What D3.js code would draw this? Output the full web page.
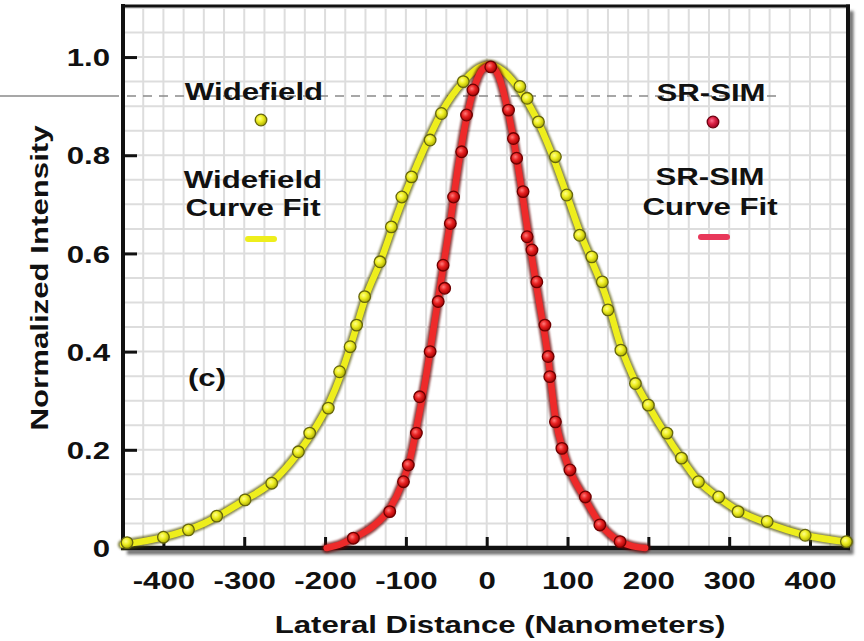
<!DOCTYPE html>
<html>
<head>
<meta charset="utf-8">
<script src="https://cdn.jsdelivr.net/npm/d3@7"></script>
<style>
  body { margin: 0; background: #fff; }
  svg { display: block; }
  text { font-family: "Liberation Sans", Arial, Helvetica, sans-serif; font-weight: bold; fill: #111; }
</style>
</head>
<body>
<svg id="chart" width="864" height="641"></svg>
<script>
// Measured intensity profiles (lateral position in nm, normalized intensity)
const widefieldX = [-445, -400, -369, -334, -299, -266, -233, -219, -196, -182, -169, -161, -151, -132, -118, -105, -93, -70, -56, -29,
                    41, 50, 64, 85, 99, 115, 130, 143, 150, 166, 184, 200, 223, 241, 262, 287, 311, 347, 394, 445];
const widefieldY = [0.011, 0.022, 0.037, 0.065, 0.098, 0.132, 0.196, 0.234, 0.285, 0.359, 0.410, 0.454, 0.512, 0.583, 0.654, 0.715, 0.756, 0.831, 0.885, 0.950,
                    0.940, 0.916, 0.868, 0.797, 0.719, 0.637, 0.593, 0.542, 0.485, 0.403, 0.335, 0.291, 0.234, 0.183, 0.135, 0.104, 0.074, 0.054, 0.026, 0.013];

const srsimX = [-165, -120, -103, -97, -87, -83, -70, -60, -52, -54, -45, -41, -31, -25, -17, 5,
                27, 33, 37, 45, 50, 56, 62, 72, 76, 78, 85, 93, 103, 122, 140, 165];
const srsimY = [0.020, 0.074, 0.135, 0.169, 0.234, 0.308, 0.400, 0.502, 0.529, 0.576, 0.661, 0.715, 0.807, 0.882, 0.933, 0.980,
                0.892, 0.834, 0.794, 0.726, 0.634, 0.607, 0.542, 0.454, 0.390, 0.349, 0.257, 0.203, 0.159, 0.104, 0.047, 0.013];

// Fitted curves
const widefieldFitX = [-450, -400, -350, -300, -265, -235, -210, -195, -180, -165, -150, -130, -115, -100, -85, -70, -55, -30, -10, 2,
                       20, 40, 60, 80, 100, 115, 130, 148, 165, 185, 200, 220, 240, 260, 285, 310, 345, 395, 447];
const widefieldFitY = [0.007, 0.022, 0.05, 0.097, 0.135, 0.19, 0.25, 0.295, 0.355, 0.43, 0.51, 0.59, 0.66, 0.725, 0.785, 0.84, 0.89, 0.948, 0.978, 0.985,
                       0.972, 0.935, 0.88, 0.805, 0.715, 0.645, 0.585, 0.51, 0.415, 0.335, 0.29, 0.235, 0.185, 0.14, 0.105, 0.077, 0.052, 0.026, 0.012];

const srsimFitX = [-198, -180, -165, -140, -120, -105, -95, -85, -75, -65, -55, -45, -35, -25, -15, -5, 4,
                   15, 25, 35, 45, 55, 65, 75, 85, 95, 105, 120, 140, 165, 180, 196];
const srsimFitY = [0.0, 0.008, 0.02, 0.045, 0.08, 0.13, 0.18, 0.26, 0.35, 0.455, 0.56, 0.665, 0.78, 0.875, 0.94, 0.975, 0.982,
                   0.96, 0.9, 0.815, 0.71, 0.6, 0.5, 0.4, 0.265, 0.195, 0.15, 0.105, 0.05, 0.013, 0.004, 0.0];

const xTicks = [-400, -300, -200, -100, 0, 100, 200, 300, 400];
const xTickLabels = ["-400", "-300", "-200", "-100", "0", "100", "200", "300", "400"];
const yTicks = [0, 0.2, 0.4, 0.6, 0.8, 1.0];
const yTickLabels = ["0", "0.2", "0.4", "0.6", "0.8", "1.0"];

const xTitle = "Lateral Distance (Nanometers)";
const yTitle = "Normalized Intensity";

const STRETCH = 1.3;   // wide lettering
const FONT = '"Liberation Sans", Arial, Helvetica, sans-serif';

const svg = d3.select("#chart");
const x = d3.scaleLinear().domain([-450, 447]).range([123, 848]);
const y = d3.scaleLinear().domain([0, 1.104]).range([548, 6]);

// ---- defs: dot gradients, blur ----
const defs = svg.append("defs");
function radial(id, stops) {
  const g = defs.append("radialGradient").attr("id", id)
    .attr("cx", "40%").attr("cy", "38%").attr("r", "65%");
  stops.forEach(([o, c]) => g.append("stop").attr("offset", o).attr("stop-color", c));
}
radial("gY", [["0%", "#ffff8a"], ["45%", "#eeee22"], ["100%", "#a8a800"]]);
radial("gR", [["0%", "#ff7a7a"], ["45%", "#e82222"], ["100%", "#a00000"]]);
radial("gRL", [["0%", "#ff7090"], ["45%", "#dc2346"], ["100%", "#9a0020"]]);
defs.append("filter").attr("id", "soft").attr("x", "-10%").attr("y", "-10%").attr("width", "120%").attr("height", "120%")
  .append("feGaussianBlur").attr("stdDeviation", 1.1);
defs.append("filter").attr("id", "shadow").attr("x", "-10%").attr("y", "-10%").attr("width", "120%").attr("height", "120%")
  .append("feGaussianBlur").attr("stdDeviation", 1.8);

// ---- grid ----
const grid = svg.append("g");
grid.selectAll("line.v").data(d3.range(-450, 448, 25)).join("line")
  .attr("x1", d => x(d)).attr("x2", d => x(d)).attr("y1", y(1.104)).attr("y2", y(0))
  .attr("stroke", "#dddddd").attr("stroke-width", 2);
grid.selectAll("line.h").data(d3.range(1, 23).map(i => i * 0.05)).join("line")
  .attr("x1", x(-450)).attr("x2", x(447)).attr("y1", d => y(d)).attr("y2", d => y(d))
  .attr("stroke", "#dddddd").attr("stroke-width", 2);

// ---- reference line across the upper part ----
svg.append("line").attr("x1", 0).attr("x2", 119).attr("y1", 96).attr("y2", 96)
  .attr("stroke", "#8a8a8a").attr("stroke-width", 1.5);
svg.append("line").attr("x1", 127).attr("x2", 776).attr("y1", 96).attr("y2", 96)
  .attr("stroke", "#8a8a8a").attr("stroke-width", 1.5).attr("stroke-dasharray", "9 7");

// ---- frame with shadow on right and bottom ----
const frame = svg.append("g");
frame.append("path")
  .attr("d", `M${x(447) + 3},${y(1.104) + 5} V${y(0) + 4} H${x(-450) + 4}`)
  .attr("fill", "none").attr("stroke", "#6f6f6f").attr("stroke-width", 5).attr("filter", "url(#shadow)");
frame.append("line").attr("x1", x(-450)).attr("x2", x(-450)).attr("y1", y(1.104) - 2).attr("y2", y(0) + 2)
  .attr("stroke", "#111").attr("stroke-width", 4);
frame.append("line").attr("x1", x(-450) - 2).attr("x2", x(447) + 2).attr("y1", y(1.104)).attr("y2", y(1.104))
  .attr("stroke", "#111").attr("stroke-width", 3);
frame.append("line").attr("x1", x(447)).attr("x2", x(447)).attr("y1", y(1.104) - 1.5).attr("y2", y(0) + 2)
  .attr("stroke", "#111").attr("stroke-width", 4);
frame.append("line").attr("x1", x(-450) - 2).attr("x2", x(447) + 2).attr("y1", y(0)).attr("y2", y(0))
  .attr("stroke", "#111").attr("stroke-width", 4.5);

// ---- axes ----
const yAxis = svg.append("g").attr("transform", `translate(${x(-450)},0)`)
  .call(d3.axisLeft(y).tickValues(yTicks).tickFormat((d, i) => yTickLabels[i]).tickSize(-14).tickPadding(13));
yAxis.select(".domain").remove();
yAxis.attr("font-family", FONT).attr("font-size", 24);
yAxis.selectAll(".tick line").attr("stroke", "#111").attr("stroke-width", 3);
yAxis.selectAll(".tick text")
  .attr("x", -13 / STRETCH).attr("dy", "0.36em")
  .attr("transform", `scale(${STRETCH},1)`)
  .attr("fill", "#111");

const xAxis = svg.append("g").attr("transform", `translate(0,${y(0)})`)
  .call(d3.axisBottom(x).tickValues(xTicks).tickFormat((d, i) => xTickLabels[i]).tickSize(-11).tickPadding(24));
xAxis.select(".domain").remove();
xAxis.attr("font-family", FONT).attr("font-size", 24);
xAxis.selectAll(".tick line").attr("stroke", "#111").attr("stroke-width", 3);
xAxis.selectAll(".tick text")
  .attr("transform", `scale(${STRETCH},1)`)
  .attr("fill", "#111");

// ---- text helper ----
function label(str, px, py, anchor = "middle", extra = "") {
  svg.append("text")
    .attr("transform", `translate(${px},${py}) ${extra} scale(${STRETCH},1)`)
    .attr("text-anchor", anchor)
    .style("font-size", "24px")
    .text(str);
}
label(xTitle, 500, 633);
label(yTitle, 48, 278, "middle", "rotate(-90)");
label("(c)", 207, 386);

// ---- series ----
const lineGen = d3.line().x(d => x(d[0])).y(d => y(d[1])).curve(d3.curveMonotoneX);
const series = [
  { px: widefieldX, py: widefieldY, fx: widefieldFitX, fy: widefieldFitY, edge: "#55550a", core: "#eeee1c", grad: "url(#gY)", dotEdge: "#66660c" },
  { px: srsimX, py: srsimY, fx: srsimFitX, fy: srsimFitY, edge: "#650000", core: "#ee2a2a", grad: "url(#gR)", dotEdge: "#6e0000" }
];
series.forEach(s => {
  const fit = s.fx.map((v, i) => [v, s.fy[i]]);
  const g = svg.append("g");
  g.append("path").datum(fit).attr("d", lineGen).attr("fill", "none")
    .attr("stroke", s.edge).attr("stroke-width", 10).attr("stroke-opacity", 0.75)
    .attr("stroke-linecap", "round").attr("filter", "url(#soft)");
  g.append("path").datum(fit).attr("d", lineGen).attr("fill", "none")
    .attr("stroke", s.core).attr("stroke-width", 6.5).attr("stroke-linecap", "round");
  const pts = s.px.map((v, i) => [v, s.py[i]]);
  g.selectAll("circle").data(pts).join("circle")
    .attr("cx", d => x(d[0])).attr("cy", d => y(d[1])).attr("r", 5.8)
    .attr("fill", s.grad).attr("stroke", s.dotEdge).attr("stroke-width", 1.3);
});

// ---- legends ----
label("Widefield", 254, 100);
label("Widefield", 253, 188);
label("Curve Fit", 253, 216);
svg.append("circle").attr("cx", 261).attr("cy", 120).attr("r", 5.8)
  .attr("fill", "url(#gY)").attr("stroke", "#66660c").attr("stroke-width", 1.3);
svg.append("line").attr("x1", 248).attr("x2", 274).attr("y1", 239).attr("y2", 239)
  .attr("stroke", "#66660c").attr("stroke-width", 9).attr("stroke-linecap", "round").attr("stroke-opacity", 0.7).attr("filter", "url(#soft)");
svg.append("line").attr("x1", 248).attr("x2", 274).attr("y1", 239).attr("y2", 239)
  .attr("stroke", "#eeee1c").attr("stroke-width", 6).attr("stroke-linecap", "round");

label("SR-SIM", 711, 101);
label("SR-SIM", 710, 185);
label("Curve Fit", 710, 215);
svg.append("circle").attr("cx", 713).attr("cy", 122).attr("r", 5.8)
  .attr("fill", "url(#gRL)").attr("stroke", "#6e0010").attr("stroke-width", 1.3);
svg.append("line").attr("x1", 701).attr("x2", 727).attr("y1", 237).attr("y2", 237)
  .attr("stroke", "#6e0010").attr("stroke-width", 9).attr("stroke-linecap", "round").attr("stroke-opacity", 0.7).attr("filter", "url(#soft)");
svg.append("line").attr("x1", 701).attr("x2", 727).attr("y1", 237).attr("y2", 237)
  .attr("stroke", "#e8385a").attr("stroke-width", 6).attr("stroke-linecap", "round");
</script>
</body>
</html>
